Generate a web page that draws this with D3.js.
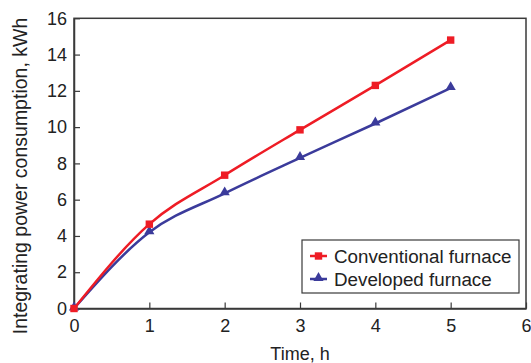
<!DOCTYPE html>
<html><head><meta charset="utf-8">
<script src="https://cdn.jsdelivr.net/npm/d3@7"></script>
<style>body{margin:0;background:#fff;} text{font-family:"Liberation Sans",Arial,sans-serif;}</style>
</head><body>
<svg id="c" width="531" height="363"></svg>
<script>
const hours = [0, 1, 2, 3, 4, 5];
const conventional = [0, 4.65, 7.35, 9.85, 12.3, 14.8];
const developed = [0, 4.2, 6.35, 8.3, 10.2, 12.15];
const xTicks = [0, 1, 2, 3, 4, 5, 6];
const yTicks = [0, 2, 4, 6, 8, 10, 12, 14, 16];
const seriesNames = ["Conventional furnace", "Developed furnace"];

const svg = d3.select("#c");
const m = {l: 74, r: 526, t: 18.3, b: 308.5};
const x = d3.scaleLinear().domain([0, 6]).range([m.l, m.r]);
const y = d3.scaleLinear().domain([0, 16]).range([m.b, m.t]);
const axisCol = "#3a3a3a";

svg.append("rect").attr("x", m.l).attr("y", m.t).attr("width", m.r - m.l).attr("height", m.b - m.t)
  .attr("fill", "none").attr("stroke", axisCol).attr("stroke-width", 1.5);

const xa = svg.append("g").attr("transform", `translate(0,${m.b})`)
  .call(d3.axisBottom(x).tickValues(xTicks).tickSizeInner(-6).tickSizeOuter(0).tickPadding(10).tickFormat(d3.format("d")));
const ya = svg.append("g").attr("transform", `translate(${m.l},0)`)
  .call(d3.axisLeft(y).tickValues(yTicks).tickSizeInner(-6).tickSizeOuter(0).tickPadding(10).tickFormat(d3.format("d")));
[xa, ya].forEach(g => {
  g.select(".domain").attr("stroke", axisCol).attr("stroke-width", 1.5);
  g.selectAll(".tick line").attr("stroke", axisCol).attr("stroke-width", 1.2);
  g.selectAll(".tick text").attr("font-size", 18).attr("fill", "#222")
    .attr("font-family", "'Liberation Sans',Arial,sans-serif");
});
xa.selectAll(".tick text").attr("dy", "0.71em").attr("y", 11);
ya.selectAll(".tick text").attr("x", -7);

svg.append("text").attr("x", x(3)).attr("y", 360).attr("text-anchor", "middle")
  .attr("font-size", 18).attr("fill", "#222").text("Time, h");
svg.append("text").attr("transform", `translate(27,176) rotate(-90)`)
  .attr("text-anchor", "middle").attr("font-size", 19.5).attr("fill", "#222")
  .text("Integrating power consumption, kWh");

const red = "#ee1c25", blue = "#3b3b9b";
const line = d3.line().x((d, i) => x(hours[i])).y(d => y(d)).curve(d3.curveMonotoneX);

svg.append("path").datum(developed).attr("d", line).attr("fill", "none").attr("stroke", blue).attr("stroke-width", 2.5);
svg.append("path").datum(conventional).attr("d", line).attr("fill", "none").attr("stroke", red).attr("stroke-width", 2.5);

const tri = d3.symbol().type(d3.symbolTriangle).size(45);
const sq = d3.symbol().type(d3.symbolSquare).size(55);
svg.selectAll(".tm").data(developed).join("path").attr("class", "tm")
  .attr("transform", (d, i) => `translate(${x(hours[i])},${y(d) - 1})`).attr("d", tri).attr("fill", blue);
svg.selectAll(".sm").data(conventional).join("path").attr("class", "sm")
  .attr("transform", (d, i) => `translate(${x(hours[i])},${y(d)})`).attr("d", sq).attr("fill", red);

const lg = svg.append("g");
lg.append("rect").attr("x", 302).attr("y", 240).attr("width", 217).attr("height", 53)
  .attr("fill", "#fff").attr("stroke", axisCol).attr("stroke-width", 1.2);
const cols = [red, blue];
seriesNames.forEach((n, i) => {
  const cy = 256 + i * 23;
  lg.append("line").attr("x1", 310).attr("x2", 327).attr("y1", cy).attr("y2", cy).attr("stroke", cols[i]).attr("stroke-width", 2.5);
  lg.append("path").attr("transform", `translate(318.5,${cy - (i ? 1 : 0)})`).attr("d", i ? tri : sq).attr("fill", cols[i]);
  lg.append("text").attr("x", 334).attr("y", cy + 6.5).attr("font-size", 18.8).attr("fill", "#222").text(n);
});
</script>
</body></html>
